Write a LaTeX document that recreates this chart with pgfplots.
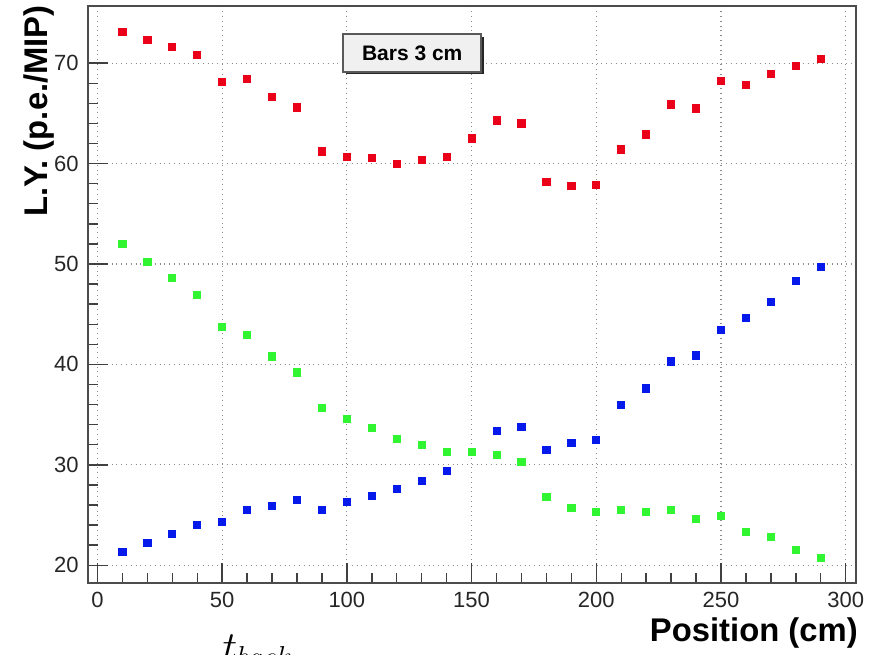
\documentclass[border=0pt]{standalone}
\usepackage{pgfplots}
\pgfplotsset{compat=1.18}
\usepackage{fontspec}
\setmainfont{Liberation Sans}
\usetikzlibrary{shadows}
\definecolor{rred}{RGB}{235,0,25}
\definecolor{rgreen}{RGB}{50,245,50}
\definecolor{rblue}{RGB}{5,25,235}
\pgfplotstableread{
x red
10 73.1
20 72.3
30 71.6
40 70.8
50 68.1
60 68.4
70 66.6
80 65.6
90 61.2
100 60.7
110 60.6
120 60.0
130 60.4
140 60.7
150 62.5
160 64.3
170 64.0
180 58.2
190 57.8
200 57.9
210 61.4
220 62.9
230 65.9
240 65.5
250 68.2
260 67.8
270 68.9
280 69.7
290 70.4
}\redtab
\pgfplotstableread{
x blue
10 21.3
20 22.2
30 23.1
40 24.0
50 24.3
60 25.5
70 25.9
80 26.5
90 25.5
100 26.3
110 26.9
120 27.6
130 28.4
140 29.4
150 31.3
160 33.4
170 33.8
180 31.5
190 32.2
200 32.5
210 36.0
220 37.6
230 40.3
240 40.9
250 43.4
260 44.6
270 46.2
280 48.3
290 49.7
}\bluetab
\pgfplotstableread{
x green
10 52.0
20 50.2
30 48.6
40 46.9
50 43.75
60 42.9
70 40.8
80 39.2
90 35.7
100 34.6
110 33.7
120 32.6
130 32.0
140 31.3
150 31.3
160 31.0
170 30.3
180 26.8
190 25.7
200 25.3
210 25.5
220 25.3
230 25.5
240 24.6
250 24.9
260 23.3
270 22.8
280 21.5
290 20.7
}\greentab
\begin{document}
\begin{tikzpicture}
\begin{axis}[
  name=ax,
  scale only axis,
  width=384pt, height=288.7pt,
  xmin=-3.9, xmax=304, ymin=18.2, ymax=75.7,
  xtick={0,50,...,300}, ytick={20,30,...,70},
  minor x tick num=4, minor y tick num=4,
  xtick pos=bottom, ytick pos=left,
  tick align=inside,
  major tick length=10pt, minor tick length=5pt,
  every tick/.style={black!75, line width=0.7pt},
  axis line style={black!70, line width=0.9pt},
  grid=major,
  major grid style={black!45, dotted, line width=0.6pt},
  /pgf/number format/assume math mode=true,
  tick label style={font=\fontsize{11}{13}\selectfont, text=black!85},
  xticklabel style={yshift=-1pt},
  yticklabel style={xshift=-1pt},
  clip=false,
]
\addplot[only marks, mark=square*, mark size=1.8pt, color=rred] table[x=x,y=red]{\redtab};
\addplot[only marks, mark=square*, mark size=1.8pt, color=rblue] table[x=x,y=blue]{\bluetab};
\addplot[only marks, mark=square*, mark size=1.8pt, color=rgreen] table[x=x,y=green]{\greentab};
\node[draw=black!65, line width=0.8pt, fill=black!6,
      drop shadow={shadow xshift=1.3pt, shadow yshift=-1.3pt, fill=black!85, opacity=1},
      minimum width=69pt, minimum height=18.8pt, inner sep=0pt,
      font=\fontsize{10.5}{12}\selectfont\bfseries]
  at (axis cs:126.2,71.0) {Bars 3 cm};
\node[anchor=base west, inner sep=0pt] at (axis cs:50,10.5) {\fontsize{20}{24}\selectfont$t_{back}$};
\end{axis}
\node[anchor=base east, inner sep=0pt, font=\fontsize{16.4}{19}\selectfont\bfseries]
  at ([xshift=1.2pt,yshift=-29.2pt]ax.south east) {Position (cm)};
\node[anchor=east, rotate=90, inner sep=0pt, font=\fontsize{16.4}{19}\selectfont\bfseries]
  at ([xshift=-24.4pt,yshift=0.5pt]ax.north west) {L.Y. (p.e./MIP)};
\pgfresetboundingbox
\path[use as bounding box] (ax.south west) ++(-43.85pt,-35.35pt) rectangle ++(442pt,327pt);
\end{tikzpicture}
\end{document}
